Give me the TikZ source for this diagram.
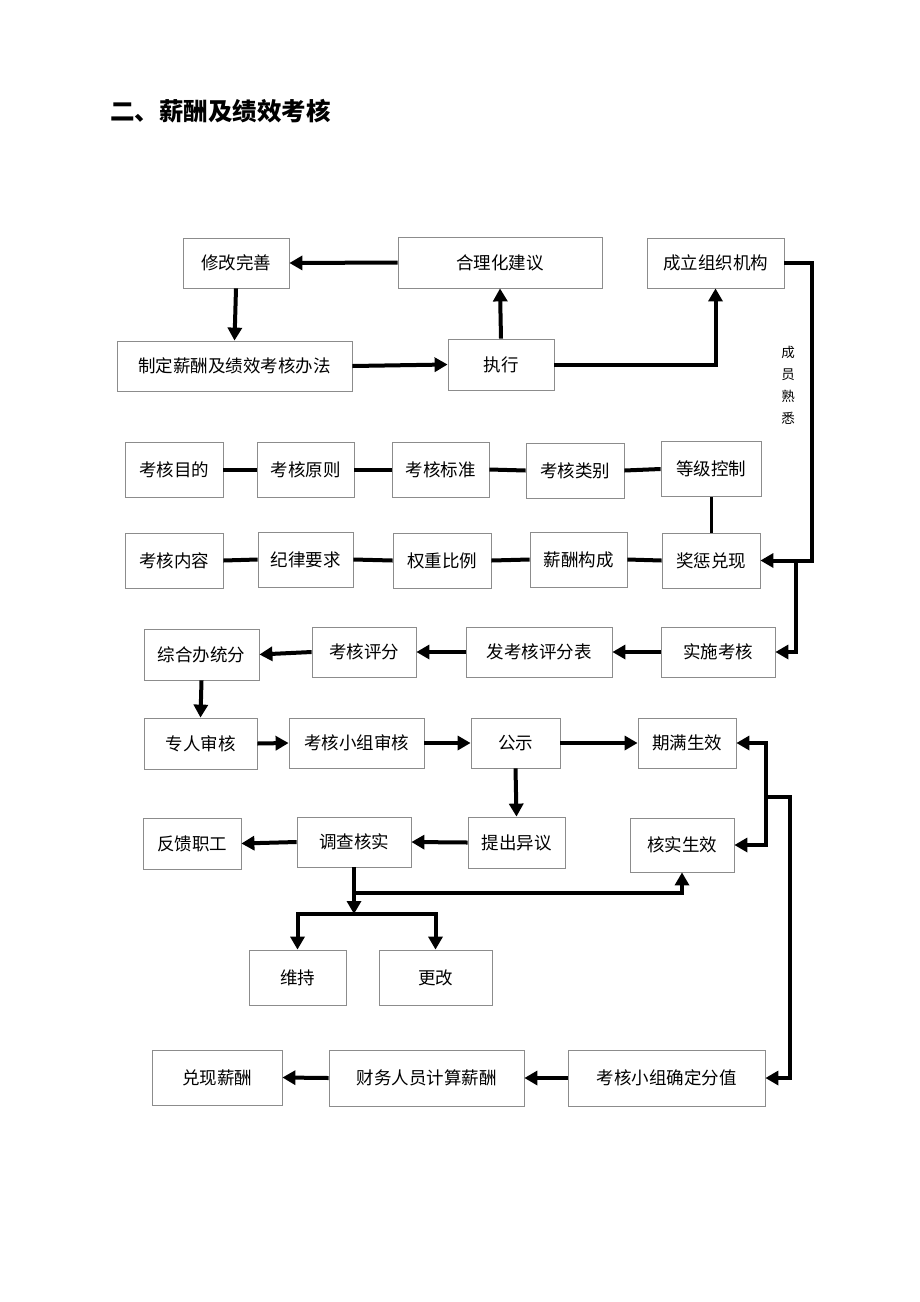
\documentclass[tikz,border=0pt]{standalone}
\usepackage{fontspec}
\newfontfamily\cjk{Noto Sans CJK SC}
\usetikzlibrary{arrows.meta}
\tikzset{
  box/.style={draw=black!45, line width=0.8pt, fill=white, inner sep=0pt, align=center, font=\cjk\fontsize{17.5}{20}\selectfont},
  conn/.style={line width=4pt, black},
  tip/.tip={Triangle[length=13pt,width=14pt]},
  arr/.style={conn,-tip},
}
\begin{document}
\begin{tikzpicture}[x=1pt,y=-1pt]
\useasboundingbox (0,0) rectangle (920,1302);
\fill[white] (0,0) rectangle (920,1302);
\node[anchor=west, inner sep=0pt, font=\cjk\bfseries\fontsize{24.5}{27}\selectfont] (title) at (110,111) {二、薪酬及绩效考核};
% top block
\node[box, minimum width=106pt, minimum height=50pt] (xg) at (236,263) {修改完善};
\node[box, minimum width=204pt, minimum height=51pt] (hl) at (500,262.5) {合理化建议};
\node[box, minimum width=137pt, minimum height=50pt] (cl) at (715.5,263) {成立组织机构};
\node[box, minimum width=235pt, minimum height=50pt] (zd) at (234.5,366) {制定薪酬及绩效考核办法};
\node[box, minimum width=106pt, minimum height=51pt] (zx) at (501,364.5) {执行};
% row 3
\node[box, minimum width=98pt, minimum height=55pt] (a1) at (174,469.5) {考核目的};
\node[box, minimum width=97pt, minimum height=55pt] (a2) at (305.5,469.5) {考核原则};
\node[box, minimum width=97pt, minimum height=55pt] (a3) at (440.5,469.5) {考核标准};
\node[box, minimum width=98pt, minimum height=55pt] (a4) at (575,470.5) {考核类别};
\node[box, minimum width=100pt, minimum height=55pt] (a5) at (711,469) {等级控制};
% row 4
\node[box, minimum width=98pt, minimum height=55pt] (b1) at (174,560.5) {考核内容};
\node[box, minimum width=95pt, minimum height=55pt] (b2) at (305.5,559.5) {纪律要求};
\node[box, minimum width=98pt, minimum height=55pt] (b3) at (442,560.5) {权重比例};
\node[box, minimum width=97pt, minimum height=55pt] (b4) at (578.5,559.5) {薪酬构成};
\node[box, minimum width=98pt, minimum height=55pt] (b5) at (711,560.5) {奖惩兑现};
% row 5
\node[box, minimum width=115pt, minimum height=51pt] (c1) at (201.5,654.5) {综合办统分};
\node[box, minimum width=104pt, minimum height=50pt] (c2) at (364,652) {考核评分};
\node[box, minimum width=146pt, minimum height=50pt] (c3) at (539,652) {发考核评分表};
\node[box, minimum width=114pt, minimum height=50pt] (c4) at (718,652) {实施考核};
% row 6
\node[box, minimum width=113pt, minimum height=51pt] (d1) at (200.5,743.5) {专人审核};
\node[box, minimum width=135pt, minimum height=50pt] (d2) at (356.5,743) {考核小组审核};
\node[box, minimum width=89pt, minimum height=50pt] (d3) at (515.5,743) {公示};
\node[box, minimum width=98pt, minimum height=50pt] (d4) at (687,743) {期满生效};
% row 7
\node[box, minimum width=98pt, minimum height=51pt] (e1) at (192,843.5) {反馈职工};
\node[box, minimum width=114pt, minimum height=50pt] (e2) at (354,842) {调查核实};
\node[box, minimum width=97pt, minimum height=51pt] (e3) at (516.5,842.5) {提出异议};
\node[box, minimum width=104pt, minimum height=54pt] (e4) at (682,845) {核实生效};
% row 8
\node[box, minimum width=97pt, minimum height=55pt] (f1) at (297.5,977.5) {维持};
\node[box, minimum width=113pt, minimum height=55pt] (f2) at (435.5,977.5) {更改};
% row 9
\node[box, minimum width=130pt, minimum height=55pt] (g1) at (217,1077.5) {兑现薪酬};
\node[box, minimum width=195pt, minimum height=56pt] (g2) at (426.5,1078) {财务人员计算薪酬};
\node[box, minimum width=197pt, minimum height=56pt] (g3) at (666.5,1078) {考核小组确定分值};
% label
\node[fill=white, inner sep=1pt, align=center, font=\cjk\fontsize{13.5}{22}\selectfont] (lbl) at (788,385) {成\\员\\熟\\悉};
% coordinates
\coordinate (k1) at (812,560.5);
\coordinate (k2) at (796,560.5);
\coordinate (m2) at (766,845);
\coordinate (m3) at (766,797);
\coordinate (m4) at (790,1078);
\coordinate (bar) at (354,914);
\coordinate (j1) at (354,893);
% top connectors
\draw[arr] (hl.west) -- (xg.east);
\draw[arr] (xg.south) -- (zd.north);
\draw[arr] (zd.east) -- (zx.west);
\draw[arr] (zx.north) -- (hl.south);
\draw[arr] (zx.east) -| (cl.south);
\draw[arr] (cl.east) -| (k1) -- (b5.east);
\draw[arr] (k2) |- (c4.east);
% rows 3 and 4
\draw[conn] (a1.east) -- (a2.west);
\draw[conn] (a2.east) -- (a3.west);
\draw[conn] (a3.east) -- (a4.west);
\draw[conn] (a4.east) -- (a5.west);
\draw[line width=3pt] (a5.south) -- (b5.north);
\draw[conn] (b1.east) -- (b2.west);
\draw[conn] (b2.east) -- (b3.west);
\draw[conn] (b3.east) -- (b4.west);
\draw[conn] (b4.east) -- (b5.west);
% row 5
\draw[arr] (c4.west) -- (c3.east);
\draw[arr] (c3.west) -- (c2.east);
\draw[arr] (c2.west) -- (c1.east);
\draw[arr] (c1.south) -- (d1.north);
% row 6
\draw[arr] (d1.east) -- (d2.west);
\draw[arr] (d2.east) -- (d3.west);
\draw[arr] (d3.east) -- (d4.west);
\draw[arr] (d3.south) -- (e3.north);
\draw[conn,tip-tip] (d4.east) -| (m2) -- (e4.east);
\draw[arr] (m3) -| (m4) -- (g3.east);
% row 7
\draw[arr] (e3.west) -- (e2.east);
\draw[arr] (e2.west) -- (e1.east);
\draw[arr] (e2.south) -- (bar);
\draw[arr] (j1) -| (e4.south);
\draw[conn,tip-tip] (f1.north) |- (bar) -| (f2.north);
% row 9
\draw[arr] (g3.west) -- (g2.east);
\draw[arr] (g2.west) -- (g1.east);
\end{tikzpicture}
\end{document}
